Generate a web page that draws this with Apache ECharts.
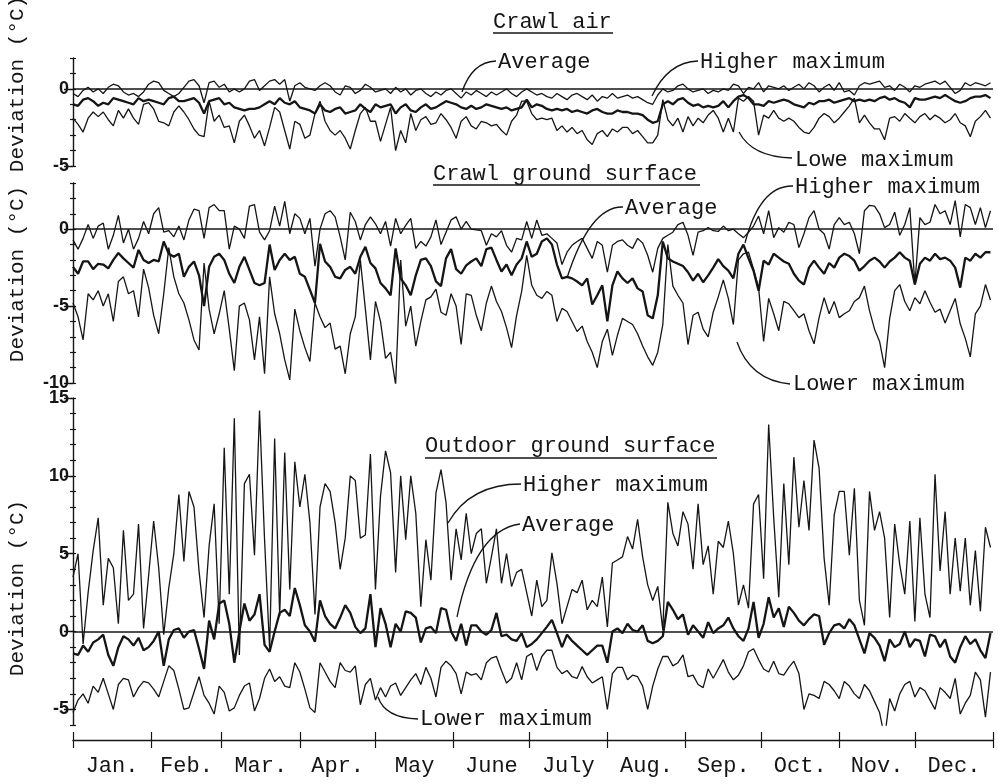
<!doctype html>
<html>
<head>
<meta charset="utf-8">
<title>Deviation of daily maximum temperature</title>
<script src="https://cdn.jsdelivr.net/npm/echarts@6/dist/echarts.min.js"></script>
<style>
  html, body { margin: 0; padding: 0; background: #fff; }
  #main { width: 998px; height: 784px; }
</style>
</head>
<body>
<div id="main"></div>
<script>
// one value every STEP days, day 0 = 1 Jan
var STEP = 2;

var months = ['Jan.', 'Feb.', 'Mar.', 'Apr.', 'May', 'June', 'July', 'Aug.', 'Sep.', 'Oct.', 'Nov.', 'Dec.'];
var monthStart = [0, 31, 59, 90, 120, 151, 181, 212, 243, 273, 304, 334, 365];

// Crawl air
var airHigh = [
  -0.3,-0.5,-0.1,0.1,-0.2,0.0,-0.3,0.1,0.3,0.2,
  -0.2,-0.4,-0.3,-0.5,-0.2,0.3,0.5,0.4,-0.1,-0.3,
  -0.5,-0.3,0.1,0.5,0.6,0.2,-0.9,0.4,0.5,0.1,
  0.3,-0.2,0.0,-0.2,0.0,0.5,0.6,-0.1,0.2,0.5,
  0.6,0.3,0.6,-0.8,0.2,0.4,0.1,0.0,-0.1,0.2,
  0.4,0.2,-0.2,-0.4,0.2,0.1,-0.3,-0.1,0.3,0.1,
  -0.2,-0.1,0.0,-0.3,0.1,-0.2,0.0,-0.4,-0.1,0.0,
  -0.3,-0.5,-0.2,-0.4,-0.1,0.0,-0.3,-0.6,-0.2,-0.4,
  -0.1,-0.3,-0.5,-0.2,-0.4,-0.2,0.0,-0.3,-0.5,-0.2,
  0.0,-0.2,-0.4,-0.3,-0.5,-0.6,-0.3,-0.5,-0.7,-0.4,
  -0.3,-0.5,-0.7,-0.4,-0.8,-0.5,-0.6,-0.3,-0.6,-0.5,
  -0.4,-0.6,-0.5,-0.7,-0.9,-1.0,-0.4,0.0,-0.2,-0.1,
  0.2,0.3,0.0,-0.2,-0.1,0.0,-0.3,-0.1,-0.2,0.0,
  -0.1,0.3,0.2,-0.3,0.1,0.0,0.4,-0.2,0.2,0.1,
  0.0,0.2,-0.1,0.1,0.3,0.0,0.4,0.2,-0.2,0.1,
  0.3,-0.1,0.4,-0.2,-0.1,-0.4,0.2,0.4,0.3,0.4,
  0.5,0.1,0.2,-0.1,0.3,0.1,-0.2,0.2,0.1,0.3,
  0.4,0.5,0.3,0.5,0.1,-0.3,-0.1,0.4,0.2,0.4,
  0.3,0.2,0.4
];
var airAvg = [
  -1.0,-1.1,-0.7,-0.6,-0.8,-1.1,-0.9,-1.0,-0.6,-0.7,
  -0.8,-0.9,-1.0,-0.6,-0.8,-0.7,-0.8,-0.9,-1.0,-0.6,
  -0.5,-0.8,-0.8,-0.7,-0.6,-0.9,-1.6,-0.8,-0.7,-0.6,
  -1.0,-0.9,-1.2,-1.3,-1.4,-1.3,-1.3,-1.2,-1.0,-0.8,
  -1.0,-0.6,-0.9,-1.0,-0.8,-1.2,-1.3,-1.4,-1.6,-1.0,
  -1.4,-1.5,-1.3,-1.2,-1.6,-1.5,-1.4,-1.0,-1.3,-1.5,
  -1.0,-1.2,-1.1,-1.0,-1.6,-1.2,-1.0,-1.4,-1.5,-1.2,
  -1.0,-1.3,-1.2,-1.0,-0.8,-0.9,-1.0,-1.2,-1.3,-1.1,
  -1.3,-1.2,-1.0,-1.1,-1.2,-1.3,-1.2,-1.4,-1.3,-1.2,
  -0.7,-1.2,-1.0,-1.1,-1.3,-1.4,-1.3,-1.4,-1.3,-1.5,
  -1.4,-1.5,-1.6,-1.4,-1.3,-1.5,-1.6,-1.6,-1.4,-1.5,
  -1.5,-1.6,-1.6,-1.7,-2.0,-2.2,-2.1,-1.0,-0.8,-1.0,
  -0.7,-0.6,-0.9,-1.1,-1.0,-1.2,-1.1,-1.2,-1.1,-0.8,
  -1.2,-0.8,-0.5,-0.4,-0.6,-1.0,-1.0,-1.1,-0.8,-0.9,
  -0.8,-0.7,-0.8,-1.0,-1.1,-1.2,-0.9,-1.0,-0.8,-0.8,
  -0.7,-0.9,-0.8,-0.7,-0.6,-0.8,-0.7,-0.8,-0.7,-0.8,
  -0.6,-0.5,-0.7,-0.6,-0.8,-0.9,-1.2,-0.6,-0.7,-0.7,
  -0.6,-0.5,-0.6,-0.4,-0.6,-0.8,-0.9,-0.8,-0.6,-0.5,
  -0.5,-0.4,-0.6
];
var airLow = [
  -1.9,-2.3,-2.8,-1.9,-1.5,-1.8,-1.5,-2.0,-2.4,-1.4,
  -1.9,-1.3,-1.9,-2.3,-1.0,-0.9,-1.3,-2.1,-2.2,-2.4,
  -1.5,-1.1,-1.5,-2.0,-2.6,-3.0,-3.1,-0.8,-2.1,-1.7,
  -2.5,-2.4,-3.5,-2.1,-1.7,-2.4,-3.2,-2.7,-3.7,-2.5,
  -1.2,-1.5,-2.7,-3.9,-2.1,-2.3,-3.2,-3.0,-1.6,-0.8,
  -2.1,-2.7,-3.0,-2.7,-3.2,-3.9,-2.7,-1.6,-1.2,-2.1,
  -2.1,-3.4,-2.3,-1.2,-4.0,-2.7,-3.5,-1.6,-2.7,-2.0,
  -1.8,-2.3,-2.2,-1.6,-2.0,-2.5,-3.2,-2.1,-1.8,-2.4,
  -2.6,-2.1,-2.2,-2.4,-2.3,-2.7,-3.0,-2.1,-1.7,-0.8,
  -0.8,-1.6,-2.0,-1.9,-2.0,-1.9,-2.7,-2.4,-2.8,-2.5,
  -2.9,-2.7,-3.3,-3.6,-2.9,-2.7,-3.1,-2.6,-2.8,-2.5,
  -2.5,-2.9,-2.7,-3.1,-3.5,-3.5,-3.0,-0.7,-2.0,-2.4,
  -1.9,-2.8,-1.8,-2.4,-1.9,-2.2,-1.7,-1.4,-1.9,-2.8,
  -1.9,-2.8,-0.6,-0.8,-0.5,-0.8,-3.0,-1.7,-1.9,-1.4,
  -1.9,-2.1,-1.9,-2.1,-2.5,-2.8,-2.9,-2.5,-1.9,-1.6,
  -1.8,-2.2,-1.9,-1.5,-1.1,-0.6,-2.2,-1.7,-2.2,-2.6,
  -2.6,-3.3,-1.9,-1.8,-2.1,-1.6,-1.9,-2.2,-1.8,-1.6,
  -2.0,-1.7,-1.9,-2.2,-2.0,-1.6,-2.2,-2.4,-3.1,-2.1,
  -1.8,-1.4,-1.9
];

// Crawl ground surface
var crawlHigh = [
  -0.7,-1.3,-0.6,0.3,-0.6,0.2,0.4,-1.3,-0.4,0.9,
  -0.9,0.0,-1.3,-0.6,0.5,-0.3,1.0,1.4,-0.2,-0.1,
  -0.5,0.2,-0.7,0.6,1.3,1.2,-0.6,1.4,1.6,1.2,
  1.2,-1.3,0.2,0.0,-0.6,1.5,1.6,-0.2,-0.7,-0.1,
  1.5,0.2,1.8,-0.3,1.0,0.7,-0.3,0.7,-2.4,0.0,
  1.0,1.2,0.8,-0.5,-2.0,1.1,0.5,-0.7,0.3,0.8,
  0.35,-0.3,0.5,-1.1,0.7,-0.3,0.25,0.7,-1.25,-0.8,
  -1.1,-0.5,0.6,-1.0,-0.2,0.6,0.8,0.0,0.5,0.0,
  -0.05,-0.1,-1.05,-0.3,-0.5,-0.1,-1.05,-1.5,-0.6,-0.7,
  0.5,-0.6,0.6,-0.4,-0.3,-0.6,-0.9,-2.3,-1.5,-1.05,
  -0.8,-0.6,-1.25,-1.9,-0.8,-1.05,-2.8,-1.05,-0.8,-0.7,
  -1.05,-1.25,-0.6,-0.9,-1.7,-2.8,-1.25,-0.6,-0.4,-0.2,
  0.3,0.45,-0.4,-1.7,-0.2,-0.1,0.1,-0.1,-0.15,0.2,
  -0.1,0.0,-0.3,-0.55,-0.2,0.2,0.85,-0.3,1.2,-0.55,
  0.1,-0.2,0.45,0.3,-1.2,-0.3,0.75,1.2,0.0,-0.3,
  -1.3,0.3,0.75,0.3,0.45,-0.3,-1.6,1.2,1.55,1.5,
  1.0,0.1,0.3,1.1,-0.4,0.3,1.4,-3.6,0.75,0.3,
  0.45,1.6,1.0,1.2,0.3,1.85,-0.5,1.6,1.4,0.3,
  1.4,0.1,1.2
];
var crawlAvg = [
  -2.45,-2.9,-2.1,-2.1,-2.6,-2.25,-2.3,-2.55,-2.0,-1.55,
  -1.9,-2.2,-2.5,-1.35,-2.0,-2.2,-2.0,-2.1,-0.8,-1.6,
  -1.8,-1.6,-3.1,-2.45,-2.1,-3.0,-5.0,-2.45,-1.8,-1.6,
  -2.0,-2.9,-3.5,-2.45,-1.8,-2.65,-3.5,-3.65,-3.5,-1.0,
  -2.65,-2.0,-1.6,-2.0,-1.8,-2.9,-3.1,-3.95,-4.8,-0.95,
  -2.1,-2.45,-3.1,-3.2,-2.65,-2.45,-2.9,-1.8,-1.15,-2.2,
  -2.55,-3.5,-3.85,-4.3,-1.25,-3.2,-3.65,-4.3,-3.0,-2.0,
  -1.9,-2.4,-3.4,-3.7,-1.9,-1.3,-2.6,-2.9,-2.35,-2.1,
  -1.9,-2.4,-1.3,-1.2,-2.0,-2.75,-2.3,-3.0,-2.3,-1.9,
  -0.8,-1.8,-1.6,-0.8,-0.6,-1.0,-2.3,-3.2,-3.1,-3.2,
  -3.4,-3.65,-3.2,-4.9,-4.3,-3.65,-6.0,-3.65,-2.75,-3.2,
  -3.5,-3.2,-3.85,-4.05,-5.6,-5.8,-4.3,-0.8,-1.9,-2.1,
  -2.25,-2.4,-2.8,-3.35,-2.9,-3.45,-3.0,-2.5,-1.95,-2.4,
  -2.7,-3.2,-1.6,-1.0,-1.9,-2.7,-4.0,-2.05,-2.3,-1.6,
  -1.85,-2.1,-2.25,-2.9,-3.35,-3.6,-2.5,-2.05,-2.5,-2.9,
  -2.2,-2.5,-1.85,-1.6,-1.75,-2.05,-2.7,-2.4,-2.05,-1.85,
  -2.1,-2.5,-2.1,-1.85,-1.5,-1.85,-2.05,-3.6,-2.25,-1.85,
  -2.05,-1.6,-1.95,-1.85,-2.05,-2.5,-3.8,-1.85,-2.05,-1.6,
  -1.85,-1.5,-1.5
];
var crawlLow = [
  -4.8,-5.7,-7.2,-4.2,-4.6,-4.0,-5.0,-4.2,-6.0,-3.4,
  -3.1,-4.2,-4.0,-5.7,-2.6,-3.8,-5.6,-6.8,-4.2,-1.2,
  -3.1,-4.2,-4.8,-5.9,-7.2,-7.85,-2.2,-5.2,-6.8,-5.5,
  -4.0,-6.5,-9.2,-5.0,-4.8,-5.9,-8.5,-5.7,-9.4,-3.1,
  -5.5,-6.8,-8.5,-9.8,-5.2,-6.6,-7.7,-8.6,-4.8,-5.7,
  -6.4,-6.1,-7.8,-7.6,-9.4,-6.8,-5.7,-2.0,-5.2,-8.5,
  -4.7,-6.0,-8.4,-8.0,-10.1,-2.0,-6.3,-5.0,-7.6,-6.0,
  -4.6,-4.4,-3.9,-5.4,-5.6,-4.2,-5.0,-7.5,-4.2,-4.3,
  -5.6,-6.6,-4.8,-3.7,-4.7,-5.35,-6.4,-7.7,-5.6,-4.05,
  -1.7,-3.65,-4.3,-4.5,-4.05,-4.3,-6.0,-5.15,-5.35,-6.0,
  -6.65,-6.3,-7.3,-8.0,-9.0,-7.3,-6.5,-8.2,-6.9,-5.8,
  -6.0,-6.2,-6.8,-7.6,-8.3,-8.85,-8.0,-6.2,-1.0,-3.7,
  -4.3,-4.8,-7.5,-5.6,-5.4,-6.5,-7.0,-5.4,-4.4,-3.3,
  -4.5,-6.2,-2.0,-1.6,-1.5,-2.6,-3.8,-7.3,-4.5,-5.5,
  -6.6,-4.7,-4.85,-5.3,-5.75,-5.5,-6.6,-7.45,-5.75,-4.45,
  -5.5,-4.7,-5.75,-5.5,-5.3,-4.7,-4.45,-3.7,-5.3,-6.5,
  -7.3,-9.0,-5.8,-4.0,-3.6,-4.7,-5.3,-4.45,-4.85,-4.0,
  -4.75,-5.4,-5.2,-6.1,-5.3,-4.5,-6.15,-7.1,-8.3,-5.5,
  -5.0,-3.6,-4.6
];

// Outdoor ground surface
var outHigh = [
  3.5,5.0,-0.8,2.5,5.2,7.3,1.7,4.7,4.1,0.5,
  6.5,2.0,2.4,6.9,0.2,3.6,7.1,4.1,-0.2,2.8,
  5.0,8.8,4.5,9.0,8.0,3.9,0.9,5.5,8.2,0.5,
  11.8,2.4,13.7,-1.5,9.5,10.1,4.9,14.2,5.9,-1.1,
  12.4,1.0,11.5,2.7,10.9,8.0,10.1,7.0,1.1,8.0,
  9.5,9.0,7.0,4.0,6.0,10.0,9.7,6.0,6.2,11.4,
  2.7,8.7,11.6,10.2,3.8,10.0,5.9,10.0,7.6,1.6,
  5.9,3.3,8.9,10.4,8.3,3.3,6.6,4.6,7.6,5.0,
  6.3,6.6,3.1,4.8,6.6,3.1,5.0,2.9,3.8,4.0,
  2.5,1.0,3.3,1.6,2.0,5.05,3.1,0.5,1.6,2.7,
  2.5,3.3,1.4,2.0,1.6,3.5,0.3,4.4,4.6,4.8,
  6.1,5.3,7.2,4.8,3.0,2.0,2.9,0.1,8.3,6.3,
  5.5,7.7,6.9,4.0,8.2,4.3,5.5,2.4,5.8,5.4,
  7.1,5.0,1.7,3.0,1.5,8.2,8.8,3.4,13.3,7.3,
  2.2,9.5,4.3,11.2,6.7,9.7,6.5,12.3,10.5,4.7,
  1.7,7.5,9.0,9.0,4.9,9.2,2.0,0.4,9.0,6.5,
  7.7,6.0,0.9,6.9,4.3,2.4,7.1,0.65,7.3,2.4,
  0.9,10.1,3.9,7.7,2.4,6.0,2.6,6.0,1.7,5.2,
  1.3,6.7,5.4
];
var outAvg = [
  -1.4,-1.5,-0.9,-1.3,-0.7,-0.5,-0.2,-1.5,-2.2,-1.0,
  -0.3,-0.5,-0.9,-0.4,-1.2,-1.0,-0.6,0.0,-2.2,-0.5,
  0.1,0.2,-0.4,0.0,0.1,-1.1,-2.4,0.7,-0.5,1.8,
  2.0,0.5,-2.0,0.0,1.8,0.7,1.1,2.4,-0.85,-1.3,
  0.0,1.2,1.4,1.0,2.8,1.7,0.4,0.0,-0.65,2.0,
  1.0,0.5,0.2,0.9,1.7,1.2,0.3,-0.1,0.2,2.4,
  -1.0,1.5,0.5,-1.0,0.5,0.0,1.3,1.2,0.9,-0.7,
  0.2,0.3,-0.1,1.5,1.4,0.0,-0.6,0.5,-0.9,0.4,
  0.4,0.0,-0.2,0.1,1.2,-0.3,-0.2,-0.5,-0.6,-0.1,
  -1.0,-0.8,-0.5,-0.1,0.3,0.75,-0.1,-1.0,-0.2,-0.6,
  -0.9,-1.2,-1.5,-1.2,-0.9,-0.9,-2.0,0.0,0.2,-0.1,
  0.5,0.1,0.0,0.4,-0.6,-0.75,-0.6,-0.3,1.9,1.4,
  0.8,1.1,-0.2,0.4,0.0,-0.4,0.6,-0.1,0.2,0.4,
  0.9,0.2,-0.3,-0.6,0.2,1.9,-0.4,0.5,2.2,0.9,
  1.5,0.3,1.6,1.2,0.7,0.4,0.8,1.1,1.0,-0.85,
  -0.1,0.4,0.5,0.2,0.8,0.4,-0.5,-1.4,-0.1,-0.4,
  -0.9,-1.9,-0.5,-1.0,-0.8,0.0,-1.0,-0.5,-0.6,-1.6,
  -0.2,-0.3,-1.0,-0.5,-1.6,-2.0,-1.0,-0.3,-0.8,-0.5,
  -1.2,-1.7,-0.1
];
var outLow = [
  -5.2,-4.4,-4.0,-4.6,-3.5,-3.9,-3.0,-4.0,-5.0,-3.4,
  -3.0,-3.1,-4.2,-3.6,-3.2,-3.3,-3.7,-4.2,-3.2,-2.2,
  -2.5,-3.7,-5.0,-4.9,-3.9,-2.9,-4.1,-4.6,-5.3,-3.5,
  -3.9,-5.1,-4.9,-4.1,-3.5,-3.3,-5.1,-4.3,-3.0,-2.4,
  -3.2,-2.9,-3.5,-3.6,-2.0,-2.6,-3.7,-4.9,-5.2,-2.0,
  -2.6,-3.2,-3.6,-2.0,-2.5,-2.6,-2.2,-4.7,-3.4,-3.0,
  -4.4,-3.6,-4.2,-3.5,-3.3,-4.1,-3.6,-3.1,-2.7,-3.4,
  -2.3,-3.0,-4.2,-2.3,-1.9,-2.2,-2.7,-4.0,-2.6,-2.8,
  -2.7,-3.1,-2.0,-1.7,-1.6,-2.5,-3.3,-3.0,-2.0,-3.1,
  -1.6,-1.4,-2.5,-1.6,-1.2,-1.2,-2.3,-2.7,-2.5,-2.9,
  -3.0,-2.25,-2.9,-3.3,-3.1,-2.9,-5.0,-2.7,-2.3,-2.3,
  -3.1,-2.8,-2.9,-3.5,-5.0,-3.5,-2.4,-1.6,-1.6,-2.2,
  -2.0,-1.5,-2.9,-2.8,-3.4,-3.6,-2.4,-3.0,-2.4,-1.8,
  -2.6,-3.1,-2.8,-2.2,-1.3,-1.1,-1.8,-2.4,-2.6,-1.9,
  -2.7,-2.8,-2.3,-1.9,-2.7,-5.0,-4.0,-4.1,-4.3,-3.2,
  -3.4,-3.8,-4.3,-3.2,-3.5,-4.0,-4.3,-3.4,-3.8,-4.5,
  -5.2,-6.8,-4.3,-5.1,-4.0,-3.4,-3.2,-4.2,-3.6,-3.8,
  -4.4,-5.0,-3.6,-3.9,-4.3,-3.0,-5.3,-4.6,-4.1,-2.6,
  -3.1,-5.5,-2.6
];

var panelRange = [[-5, 2], [-10, 3], [-6, 15]];
var panelLabels = [[0, -5], [0, -5, -10], [15, 10, 5, 0, -5]];

function pts(arr) {
  return arr.map(function (v, i) { return [i * STEP, v]; });
}

var monthMid = [];
for (var m = 0; m < 12; m++) monthMid.push((monthStart[m] + monthStart[m + 1]) / 2);

var INK = '#151515';
var MONO = '"Liberation Mono", "DejaVu Sans Mono", monospace';

var grids = [
  { left: 73, width: 920, top: 58, height: 108 },
  { left: 73, width: 920, top: 183, height: 200 },
  { left: 73, width: 920, top: 398, height: 327 }
];

var xAxes = [], yAxes = [], series = [];
for (var g = 0; g < 3; g++) {
  xAxes.push({ type: 'value', gridIndex: g, min: 0, max: 365, show: false });
  var r = panelRange[g];
  // axis line with inner ticks
  yAxes.push({
    type: 'value', gridIndex: g, position: 'left', min: r[0], max: r[1], interval: 1,
    axisLine: { show: true, onZero: false, lineStyle: { color: INK, width: 1.4 } },
    axisTick: { show: true, inside: true, length: 3, lineStyle: { color: INK, width: 1.2 } },
    axisLabel: { show: false }, splitLine: { show: false }
  });
  // outer small ticks
  yAxes.push({
    type: 'value', gridIndex: g, position: 'left', min: r[0], max: r[1], interval: 1,
    axisLine: { show: false, onZero: false },
    axisTick: { show: true, length: 3, lineStyle: { color: INK, width: 1.2 } },
    axisLabel: { show: false }, splitLine: { show: false }
  });
  // long ticks with labels
  yAxes.push({
    type: 'value', gridIndex: g, position: 'left', min: r[0], max: r[1],
    axisLine: { show: false, onZero: false },
    axisTick: { show: true, length: 9, customValues: panelLabels[g], lineStyle: { color: INK, width: 1.4 } },
    axisLabel: {
      show: true, customValues: panelLabels[g], margin: 4,
      color: INK, fontSize: 18, fontWeight: 'bold', fontFamily: '"Liberation Sans", Arial, sans-serif'
    },
    splitLine: { show: false }
  });
}

// bottom month axis, below the lower panel
xAxes.push({
  type: 'value', gridIndex: 2, min: 0, max: 365, position: 'bottom', offset: 15,
  axisLine: { show: true, onZero: false, lineStyle: { color: INK, width: 1.4 } },
  axisTick: { show: true, length: 8, customValues: monthStart, lineStyle: { color: INK, width: 1.2 } },
  axisLabel: {
    show: true, customValues: monthMid, margin: 15, color: INK, fontSize: 22, fontFamily: MONO,
    formatter: function (v) { return months[monthMid.indexOf(v)]; }
  },
  splitLine: { show: false }
});
xAxes.push({
  type: 'value', gridIndex: 2, min: 0, max: 365, position: 'bottom', offset: 15,
  axisLine: { show: false, onZero: false },
  axisTick: { show: true, inside: true, length: 8, customValues: monthStart, lineStyle: { color: INK, width: 1.2 } },
  axisLabel: { show: false }, splitLine: { show: false }
});

var panels = [
  [airHigh, airAvg, airLow],
  [crawlHigh, crawlAvg, crawlLow],
  [outHigh, outAvg, outLow]
];
var names = ['Higher maximum', 'Average', 'Lower maximum'];

for (var p = 0; p < 3; p++) {
  for (var s = 0; s < 3; s++) {
    var ser = {
      name: names[s], type: 'line', xAxisIndex: p, yAxisIndex: p * 3,
      data: pts(panels[p][s]), symbol: 'none', silent: true,
      lineStyle: { color: INK, width: s === 1 ? 2.3 : 1.3 }
    };
    if (s === 1) {
      ser.markLine = {
        silent: true, symbol: 'none', label: { show: false },
        lineStyle: { color: INK, type: 'solid', width: 1.5 },
        data: [{ yAxis: 0 }]
      };
    }
    series.push(ser);
  }
}

// titles, labels and their leader lines
function txt(s, x, y, extra) {
  var o = { type: 'text', x: x, y: y, style: { text: s, font: '22px ' + MONO, fill: INK, textVerticalAlign: 'middle' } };
  if (extra) for (var k in extra) o[k] = extra[k];
  return o;
}
function under(x1, x2, y) {
  return { type: 'line', shape: { x1: x1, y1: y, x2: x2, y2: y }, style: { stroke: INK, lineWidth: 1.4 } };
}
function lead(x1, y1, cx, cy, x2, y2) {
  return { type: 'bezierCurve', shape: { x1: x1, y1: y1, cpx1: cx, cpy1: cy, x2: x2, y2: y2 }, style: { stroke: INK, lineWidth: 1.3, fill: null } };
}

var graphics = [
  txt('Crawl air', 493, 22), under(493, 613, 33),
  txt('Average', 498, 62), lead(496, 61, 472, 62, 462, 92),
  txt('Higher maximum', 700, 62), lead(698, 61, 668, 62, 652, 96),
  txt('Lowe maximum', 795, 160), lead(739, 132, 752, 157, 792, 158),

  txt('Crawl ground surface', 433, 174), under(433, 700, 185),
  txt('Average', 625, 208), lead(623, 207, 590, 206, 567, 278),
  txt('Higher maximum', 795, 187), lead(793, 186, 760, 185, 745, 243),
  txt('Lower maximum', 793, 384), lead(737, 342, 750, 380, 790, 384),

  txt('Outdoor ground surface', 425, 446), under(425, 717, 458),
  txt('Higher maximum', 523, 485), lead(521, 484, 470, 484, 448, 523),
  txt('Average', 522, 525), lead(520, 524, 475, 530, 457, 617),
  txt('Lower maximum', 420, 719), lead(378, 697, 385, 718, 418, 719),

  txt('Deviation (°C)', 17, 84, { rotation: Math.PI / 2 }),
  txt('Deviation (°C)', 17, 274, { rotation: Math.PI / 2 }),
  txt('Deviation (°C)', 17, 588, { rotation: Math.PI / 2 })
];
// vertical labels are centred on their point
for (var i = graphics.length - 3; i < graphics.length; i++) {
  graphics[i].style.textAlign = 'center';
  graphics[i].style.font = '21px ' + MONO;
}

var myChart = echarts.init(document.getElementById('main'), null, { renderer: 'canvas' });
myChart.setOption({
  animation: false,
  backgroundColor: '#ffffff',
  grid: grids,
  xAxis: xAxes,
  yAxis: yAxes,
  series: series,
  graphic: graphics
});
</script>
</body>
</html>
